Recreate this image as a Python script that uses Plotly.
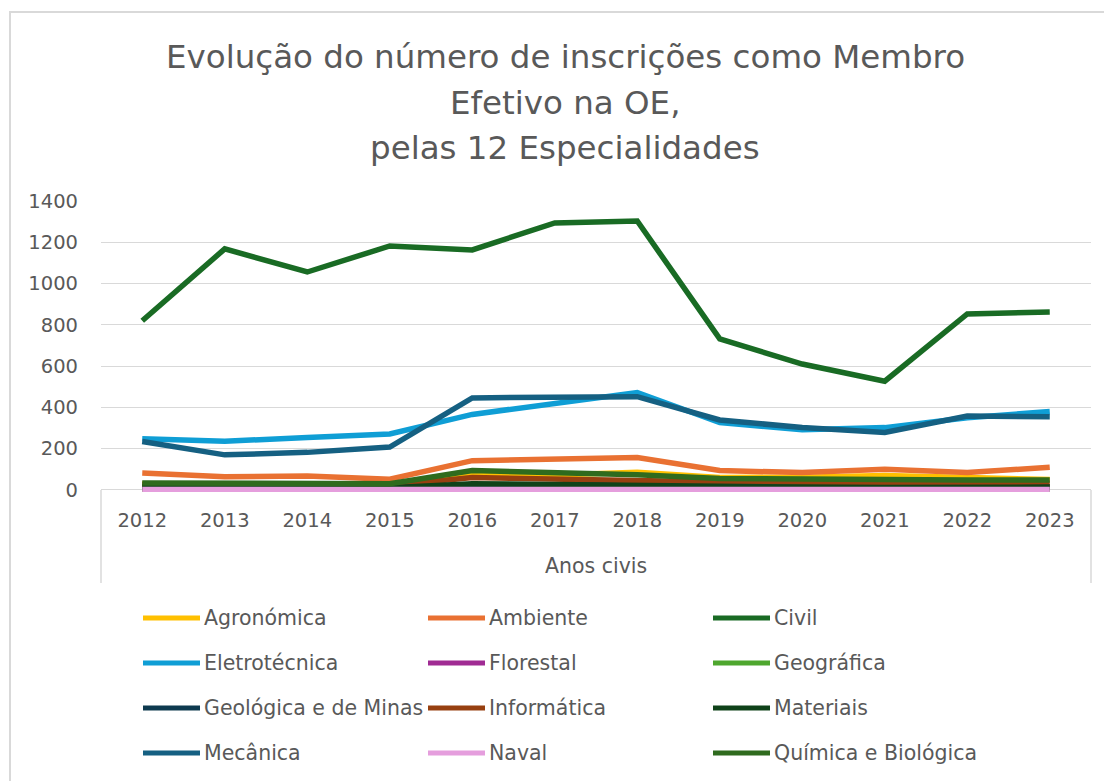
import plotly.graph_objects as go

years = ["2012", "2013", "2014", "2015", "2016", "2017", "2018", "2019", "2020", "2021", "2022", "2023"]

agronomica = [30, 30, 28, 25, 70, 72, 86, 60, 62, 70, 60, 50]
ambiente = [82, 64, 68, 52, 142, 148, 157, 94, 84, 100, 84, 110]
civil = [820, 1168, 1056, 1182, 1163, 1294, 1303, 732, 610, 527, 853, 862]
eletrotecnica = [248, 236, 254, 271, 366, 417, 472, 326, 292, 302, 350, 380]
florestal = [5, 5, 5, 4, 8, 8, 8, 6, 6, 5, 5, 5]
geografica = [5, 5, 4, 4, 6, 6, 6, 5, 5, 5, 4, 4]
geologica = [12, 12, 10, 10, 22, 25, 35, 20, 16, 15, 15, 15]
informatica = [25, 25, 22, 20, 60, 52, 48, 35, 32, 30, 30, 32]
materiais = [15, 15, 12, 10, 30, 25, 25, 15, 14, 12, 12, 14]
mecanica = [235, 170, 182, 208, 446, 451, 452, 339, 302, 278, 358, 355]
naval = [2, 2, 2, 2, 3, 3, 3, 2, 2, 2, 2, 2]
quimica = [34, 34, 33, 30, 94, 85, 74, 56, 50, 50, 48, 48]

names = ["Agronómica", "Ambiente", "Civil", "Eletrotécnica", "Florestal", "Geográfica",
         "Geológica e de Minas", "Informática", "Materiais", "Mecânica", "Naval", "Química e Biológica"]
series = [agronomica, ambiente, civil, eletrotecnica, florestal, geografica,
          geologica, informatica, materiais, mecanica, naval, quimica]
colors = ["#FFC000", "#E97132", "#196B24", "#0F9ED5", "#A02B93", "#4EA72E",
          "#0E3A4F", "#974010", "#0F4219", "#156082", "#E59EDD", "#2F6B1E"]

W, H = 1104, 781
L, R, T, B = 101, 1091, 201, 492
FONT = "DejaVu Sans"
TXT = "#595959"


def px(x):
    return (x - L) / (R - L)


def py(y):
    return (B - y) / (B - T)


fig = go.Figure()
for name, vals, col in zip(names, series, colors):
    fig.add_trace(go.Scatter(x=years, y=vals, name=name, mode="lines",
                             line=dict(color=col, width=5.5), showlegend=False))

fig.update_layout(
    width=W, height=H,
    margin=dict(l=L, r=W - R, t=T, b=H - B, pad=0),
    paper_bgcolor="white", plot_bgcolor="white",
    font=dict(family=FONT, color=TXT, size=18),
)
fig.update_xaxes(type="category", range=[-0.5, 11.5], showgrid=False, showline=False,
                 zeroline=False, ticks="", tickfont=dict(size=19.5, color=TXT),
                 ticklabelstandoff=14)
fig.update_yaxes(range=[-10, 1400], tickvals=[0, 200, 400, 600, 800, 1000, 1200, 1400],
                 showgrid=True, gridcolor="#D9D9D9", gridwidth=1, zeroline=False,
                 showline=False, ticks="", tickfont=dict(size=19.5, color=TXT),
                 ticklabelstandoff=22)

shapes = []
# outer chart border
shapes.append(dict(type="rect", xref="paper", yref="paper", x0=px(10), x1=px(1110),
                   y0=py(790), y1=py(12), line=dict(color="#D9D9D9", width=2)))
# axis box lines
for xv in (101, 1091):
    shapes.append(dict(type="line", xref="paper", yref="paper", x0=px(xv), x1=px(xv),
                       y0=py(490), y1=py(583), line=dict(color="#D9D9D9", width=1.5)))

annotations = []
titles = [("Evolução do número de inscrições como Membro", 57),
          ("Efetivo na OE,", 103), ("pelas 12 Especialidades", 148)]
for txt, yy in titles:
    annotations.append(dict(text=txt, xref="paper", yref="paper", x=px(565), y=py(yy),
                            xanchor="center", yanchor="middle", showarrow=False,
                            font=dict(size=32.5, color=TXT, family=FONT)))
annotations.append(dict(text="Anos civis", xref="paper", yref="paper", x=px(596), y=py(566),
                        xanchor="center", yanchor="middle", showarrow=False,
                        font=dict(size=20.5, color=TXT, family=FONT)))

# legend (3 columns x 4 rows)
for i, (name, col) in enumerate(zip(names, colors)):
    c, r = i % 3, i // 3
    x0 = 143 + 285 * c
    yy = 618 + 45 * r
    shapes.append(dict(type="line", xref="paper", yref="paper", x0=px(x0), x1=px(x0 + 57),
                       y0=py(yy), y1=py(yy), line=dict(color=col, width=5)))
    annotations.append(dict(text=name, xref="paper", yref="paper", x=px(x0 + 59), y=py(yy),
                            xanchor="left", yanchor="middle", showarrow=False,
                            font=dict(size=20.5, color=TXT, family=FONT)))

fig.update_layout(shapes=shapes, annotations=annotations)
fig.write_html("out.html", config={"displayModeBar": False},
               post_script="document.body.style.margin='0';document.body.style.overflow='hidden';")
